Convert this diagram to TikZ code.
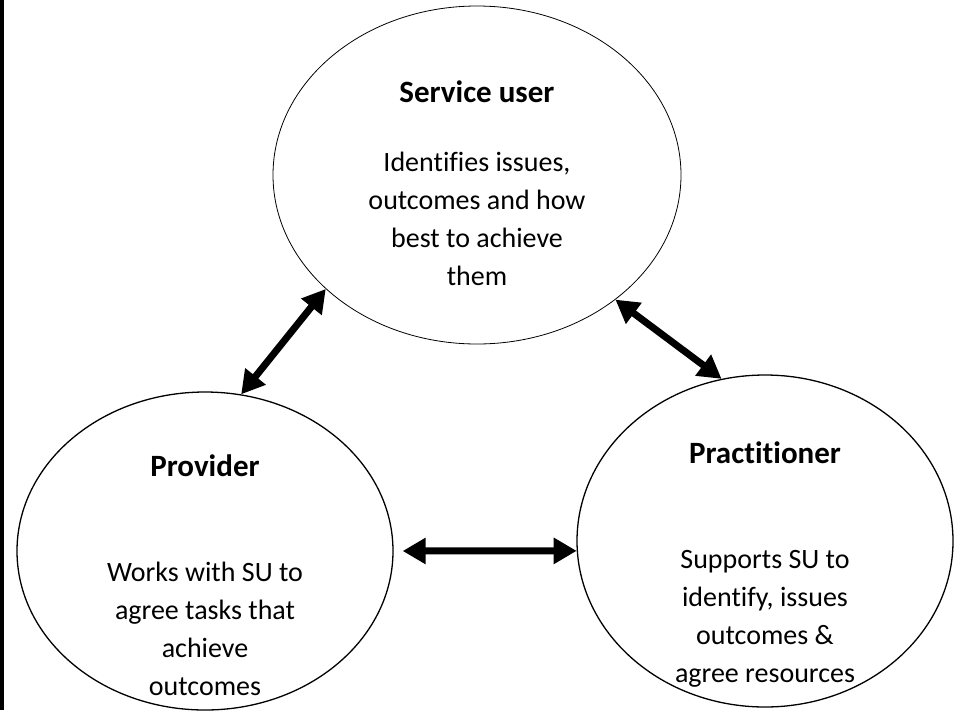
\documentclass[tikz,border=0pt]{standalone}
\usepackage{fontspec}
\setmainfont{Carlito}[Ligatures=NoCommon]
\usetikzlibrary{shapes.geometric,arrows.meta}
\newcommand{\roletitle}[1]{{\bfseries\fontsize{31}{38}\selectfont #1}}
\begin{document}
\begin{tikzpicture}[x=1pt,y=-1pt,
    role/.style={draw,ellipse,inner sep=0pt},
    roletext/.style={inner sep=0pt,align=center,font=\fontsize{28}{38}\selectfont},
    link/.style={{Triangle[length=23pt,width=25pt]}-{Triangle[length=23pt,width=25pt]},line width=7pt}]
  \useasboundingbox (0,0) rectangle (957,710);
  \fill (0,0) rectangle (4,710);
  % the three circles
  \node[role,line width=0.8pt,minimum width=408pt,minimum height=338pt] (user) at (477,175) {};
  \node[role,line width=1.3pt,minimum width=376pt,minimum height=318pt] (provider) at (205,551) {};
  \node[role,line width=1.3pt,minimum width=376pt,minimum height=332pt] (practitioner) at (765,541) {};
  % their texts
  \node[roletext] (user text) at ([yshift=-8pt]user.center)
    {\roletitle{Service user}\\[31pt]Identifies issues,\\outcomes and how\\best to achieve\\them};
  \node[roletext] (provider text) at ([yshift=-24pt]provider.center)
    {\roletitle{Provider}\\[67pt]Works with SU to\\agree tasks that\\achieve\\outcomes};
  \node[roletext] (practitioner text) at ([yshift=-24pt]practitioner.center)
    {\roletitle{Practitioner}\\[67pt]Supports SU to\\identify, issues\\outcomes \&\\agree resources};
  \begin{scope}[link]
    \draw (user.217) to (provider.77);
    \draw (user.-42) to (practitioner.105);
    \draw[shorten <=9pt] (provider.0) to (practitioner.183);
  \end{scope}
\end{tikzpicture}
\end{document}
